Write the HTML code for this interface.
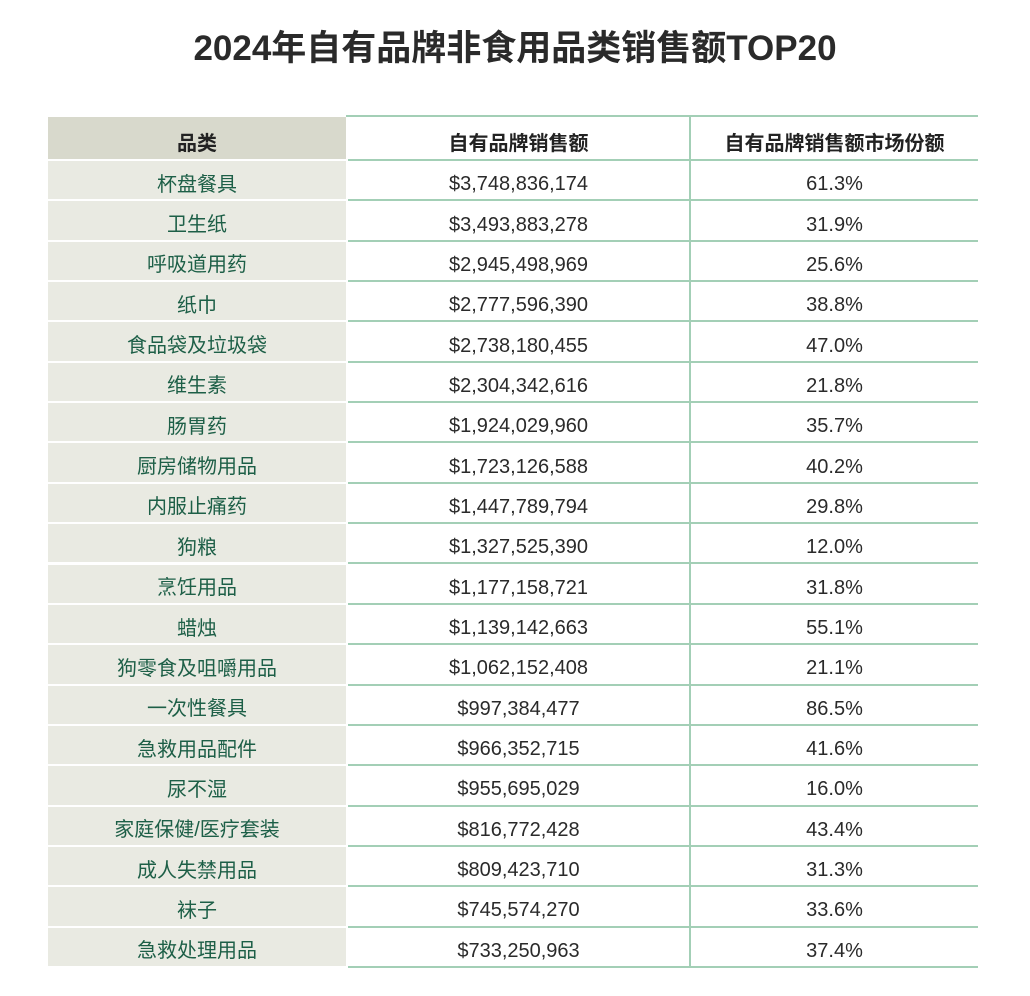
<!DOCTYPE html>
<html><head><meta charset="utf-8"><style>
body{margin:0;width:1030px;height:996px;background:#fff;font-family:"Liberation Sans","Noto Sans CJK SC",sans-serif;position:relative;overflow:hidden}
h1{position:absolute;left:0;top:23px;width:1030px;margin:0;text-align:center;font-size:35px;font-weight:bold;color:#2a2a2a;line-height:52px;font-family:"Liberation Sans","Noto Sans CJK SC",sans-serif}
.c{position:absolute;display:flex;align-items:center;justify-content:center;font-size:20px;box-sizing:border-box}
.c1{left:48px;width:298px;background:#e9eae2;color:#1d5f47;border-bottom:2px solid #fff;padding-top:4px}
.c2{left:348px;width:341px;color:#2a2a2a;border-bottom:2px solid #a3cfb6;padding-top:9px}
.c3{left:691px;width:287px;color:#2a2a2a;border-bottom:2px solid #a3cfb6;padding-top:9px}
.h{font-weight:bold;color:#222;padding-top:6px}
.vl{position:absolute;width:2px;background:#a3cfb6;top:117px;height:851px}
</style></head><body>
<h1>2024年自有品牌非食用品类销售额TOP20</h1>
<div style="position:absolute;left:346px;top:115px;width:632px;height:2px;background:#a3cfb6"></div>
<div class="vl" style="left:689px"></div>
<div class="vl" style="left:346px;background:#fff"></div>
<div class="c c1 h" style="top:117px;height:44px;background:#d8d9cc">品类</div>
<div class="c c2 h" style="top:117px;height:44px">自有品牌销售额</div>
<div class="c c3 h" style="top:117px;height:44px">自有品牌销售额市场份额</div>
<div id="rows"></div>
<script>
const categories=["杯盘餐具","卫生纸","呼吸道用药","纸巾","食品袋及垃圾袋","维生素","肠胃药","厨房储物用品","内服止痛药","狗粮","烹饪用品","蜡烛","狗零食及咀嚼用品","一次性餐具","急救用品配件","尿不湿","家庭保健/医疗套装","成人失禁用品","袜子","急救处理用品"];
const sales=["$3,748,836,174","$3,493,883,278","$2,945,498,969","$2,777,596,390","$2,738,180,455","$2,304,342,616","$1,924,029,960","$1,723,126,588","$1,447,789,794","$1,327,525,390","$1,177,158,721","$1,139,142,663","$1,062,152,408","$997,384,477","$966,352,715","$955,695,029","$816,772,428","$809,423,710","$745,574,270","$733,250,963"];
const shares=["61.3%","31.9%","25.6%","38.8%","47.0%","21.8%","35.7%","40.2%","29.8%","12.0%","31.8%","55.1%","21.1%","86.5%","41.6%","16.0%","43.4%","31.3%","33.6%","37.4%"];
const root=document.getElementById('rows');
const rh=40.35;
categories.forEach((cat,i)=>{
  const top=161+i*rh;
  [[cat,'c1'],[sales[i],'c2'],[shares[i],'c3']].forEach(([t,cl],j)=>{
    const d=document.createElement('div');
    d.className='c '+cl;
    d.style.top=top+'px';d.style.height=rh+'px';
    d.textContent=t;
    
    
    root.appendChild(d);
  });
});
</script>
</body></html>
